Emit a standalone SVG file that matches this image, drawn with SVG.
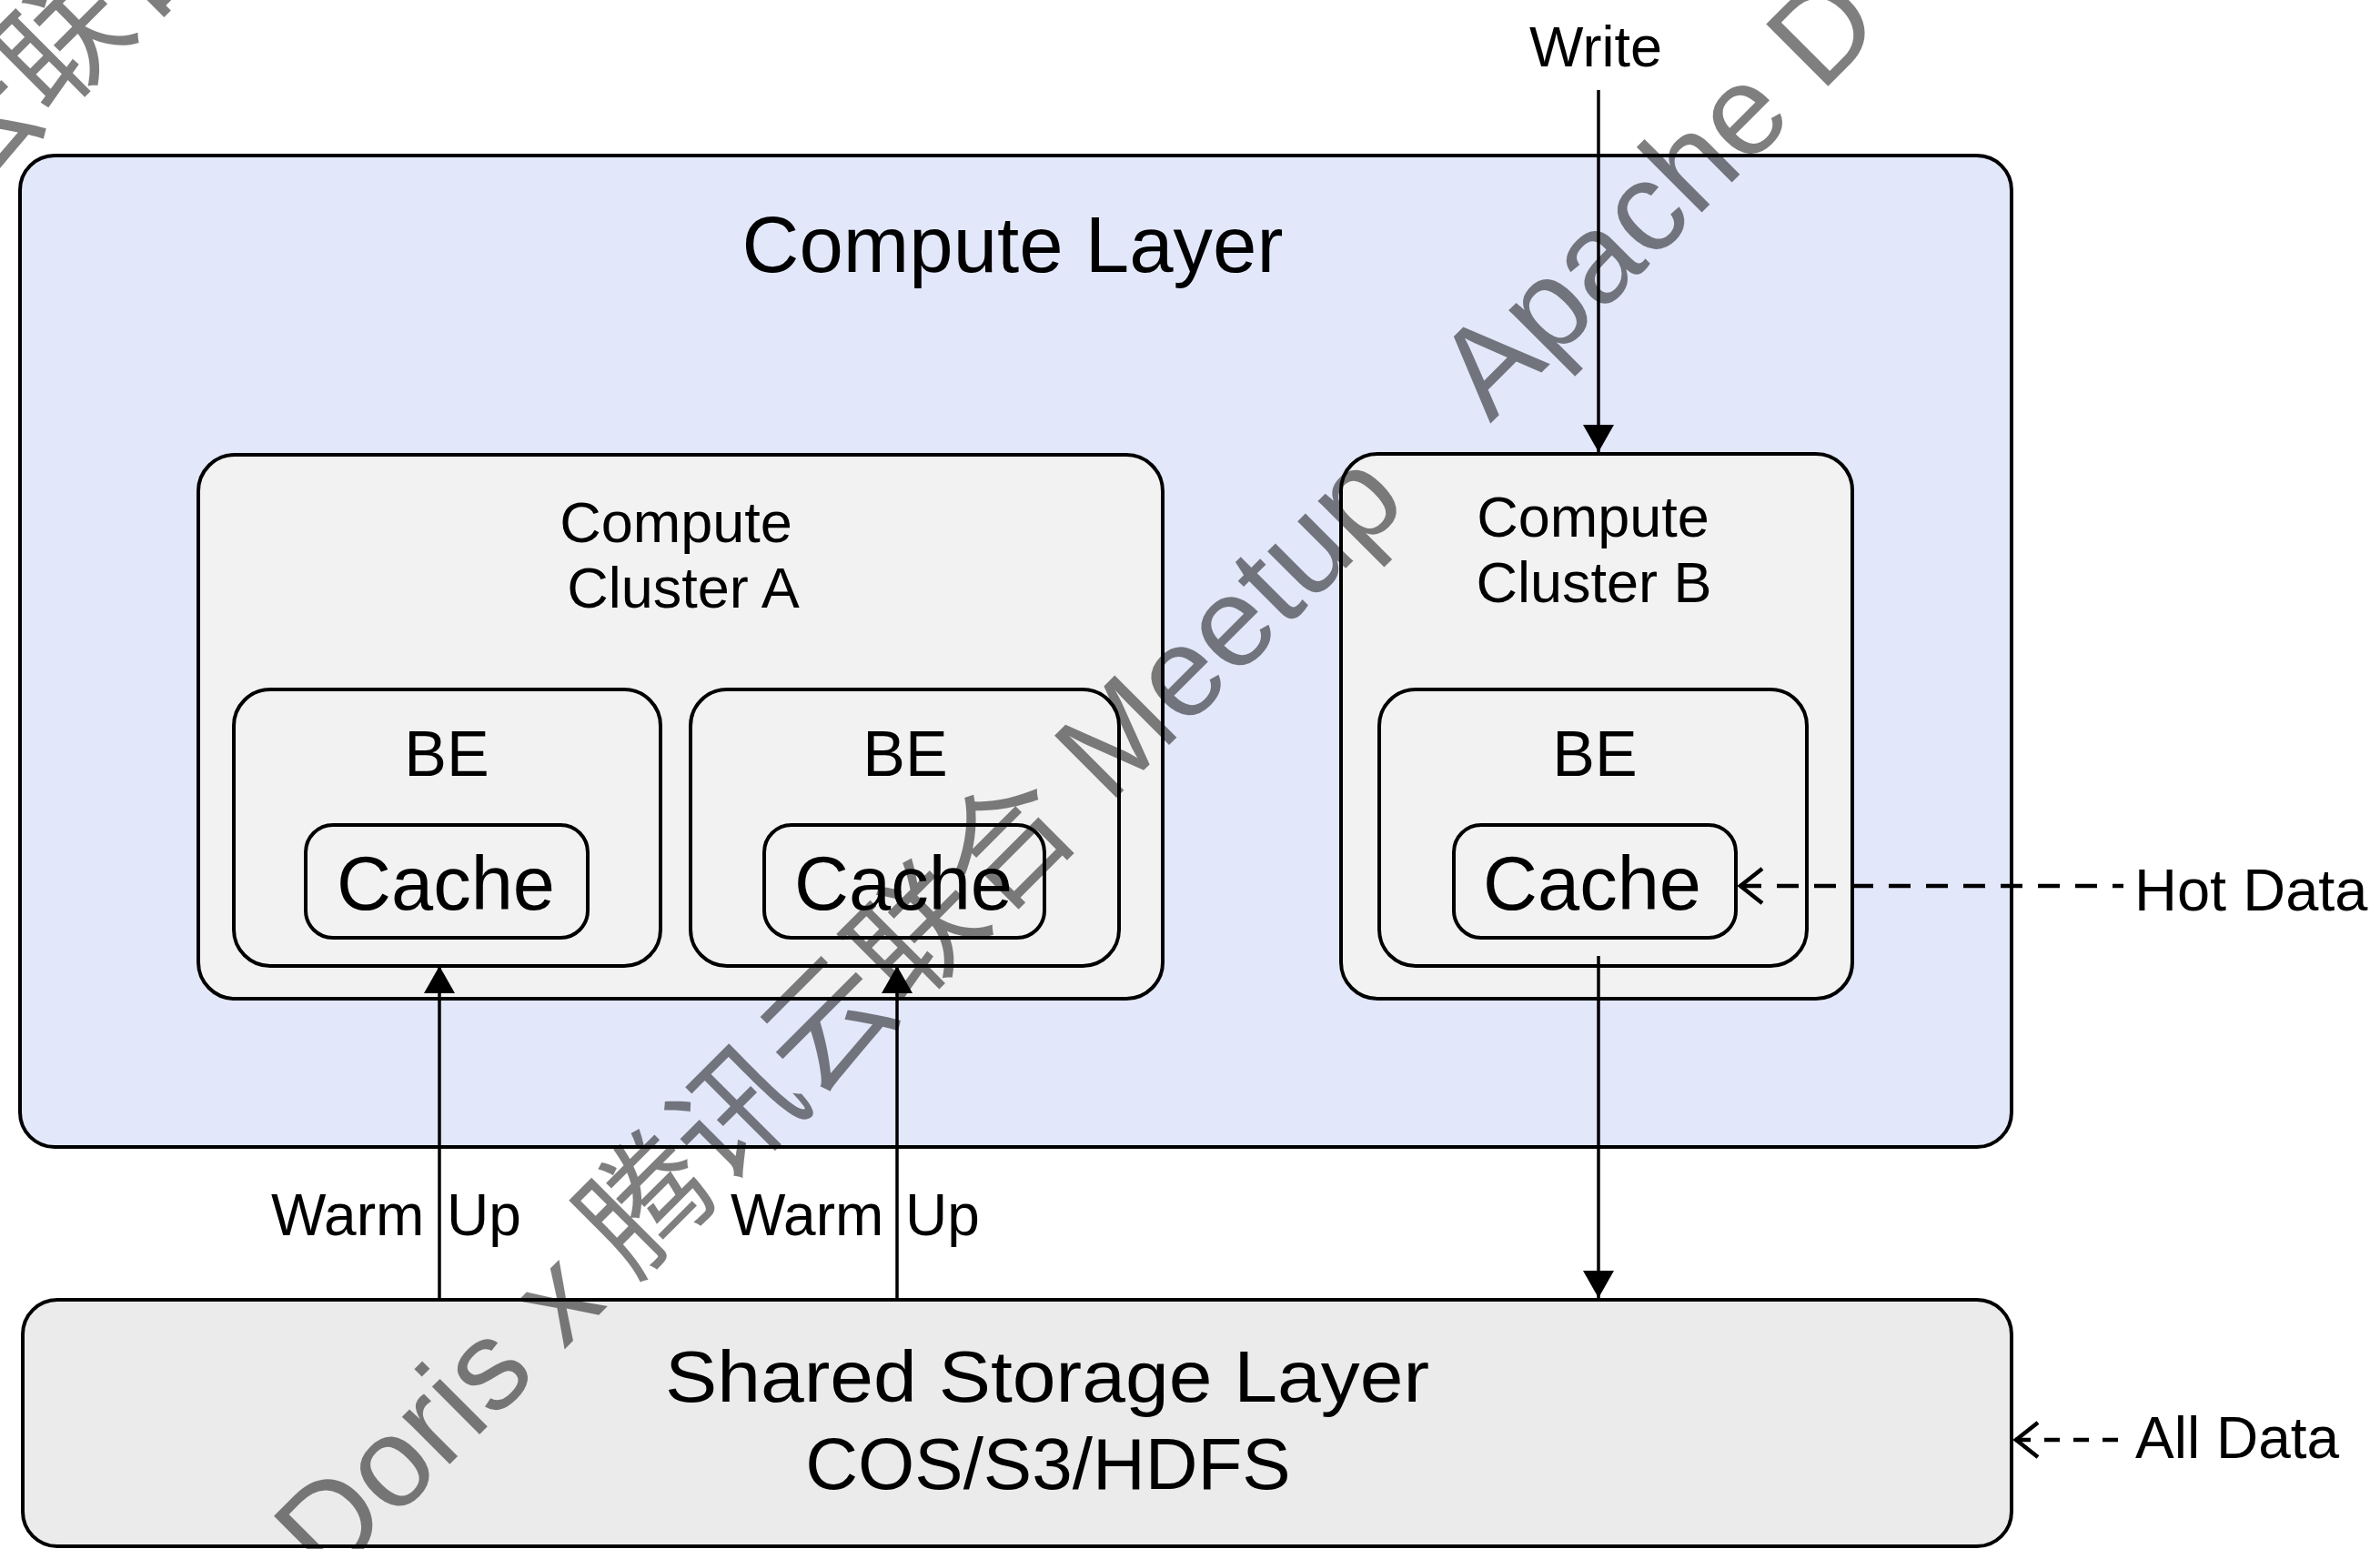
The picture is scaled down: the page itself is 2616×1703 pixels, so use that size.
<svg xmlns="http://www.w3.org/2000/svg" width="2616" height="1703" viewBox="0 0 2616 1703">
<style>
.box{stroke:#000;stroke-width:4}
.layer{fill:#E2E8FA}
.cluster{fill:#F2F2F2}
.storage{fill:#EBEBEB}
.t{font-family:"Liberation Sans",Arial,sans-serif;fill:#000}
.conn{stroke:#000;stroke-width:3.5;fill:none}
.dash{stroke-width:4.5}
.hot{stroke-dasharray:24 17}
.all{stroke-dasharray:17 15}
.wm{font-family:"Liberation Sans","Noto Sans CJK SC",sans-serif;font-size:140px;fill:#000;fill-opacity:0.5}
</style>
<defs>
<marker id="ah" markerUnits="userSpaceOnUse" viewBox="0 0 32 36" markerWidth="32" markerHeight="36" refX="30" refY="18" orient="auto">
<path d="M0,1 L30,18 L0,35 z" fill="#000"/>
</marker>
<marker id="chev" markerUnits="userSpaceOnUse" viewBox="-4 -24 34 48" markerWidth="34" markerHeight="48" refX="0" refY="0" orient="auto">
<path d="M25,-19 L1,0 L25,19" fill="none" stroke="#000" stroke-width="4.5" stroke-dasharray="none"/>
</marker>
</defs>
<rect width="2616" height="1703" fill="#fff"/>

<g id="compute-layer">
<rect class="box layer" x="22" y="171" width="2189" height="1090" rx="38"/>
<text class="t" x="1113" y="299" font-size="87" text-anchor="middle">Compute Layer</text>
</g>

<g id="cluster-a">
<rect class="box cluster" x="218" y="500" width="1060" height="598" rx="40"/>
<text class="t" x="743" y="596" font-size="63" text-anchor="middle">Compute</text>
<text class="t" x="751" y="668" font-size="63" text-anchor="middle">Cluster A</text>
</g>

<g id="be-a1">
<rect class="box cluster" x="257" y="758" width="469" height="304" rx="40"/>
<text class="t" x="491" y="853" font-size="70" text-anchor="middle">BE</text>
</g>
<g id="cache-a1">
<rect class="box cluster" x="336" y="907" width="310" height="124" rx="30"/>
<text class="t" x="490" y="1000" font-size="83" text-anchor="middle">Cache</text>
</g>

<g id="be-a2">
<rect class="box cluster" x="759" y="758" width="471" height="304" rx="40"/>
<text class="t" x="995" y="853" font-size="70" text-anchor="middle">BE</text>
</g>
<g id="cache-a2">
<rect class="box cluster" x="840" y="907" width="308" height="124" rx="30"/>
<text class="t" x="993" y="1000" font-size="83" text-anchor="middle">Cache</text>
</g>

<g id="cluster-b">
<rect class="box cluster" x="1474" y="499" width="562" height="599" rx="40"/>
<text class="t" x="1751" y="590" font-size="63" text-anchor="middle">Compute</text>
<text class="t" x="1752" y="662" font-size="63" text-anchor="middle">Cluster B</text>
</g>
<g id="be-b">
<rect class="box cluster" x="1516" y="758" width="470" height="304" rx="40"/>
<text class="t" x="1753" y="853" font-size="70" text-anchor="middle">BE</text>
</g>
<g id="cache-b">
<rect class="box cluster" x="1598" y="907" width="310" height="124" rx="30"/>
<text class="t" x="1750" y="1000" font-size="83" text-anchor="middle">Cache</text>
</g>

<g id="storage-layer">
<rect class="box storage" x="25" y="1429" width="2186" height="271" rx="38"/>
<text class="t" x="1151" y="1541" font-size="80" text-anchor="middle" textLength="840" lengthAdjust="spacingAndGlyphs">Shared Storage Layer</text>
<text class="t" x="1152" y="1637" font-size="80" text-anchor="middle">COS/S3/HDFS</text>
</g>

<g id="connectors">
<path class="conn" d="M1757,99 V497" marker-end="url(#ah)"/>
<path class="conn" d="M483,1427 V1062" marker-end="url(#ah)"/>
<path class="conn" d="M986,1427 V1062" marker-end="url(#ah)"/>
<path class="conn" d="M1757,1051 V1427" marker-end="url(#ah)"/>
<path class="conn dash hot" d="M1912,974 H2334" marker-start="url(#chev)"/>
<path class="conn dash all" d="M2215,1583 H2343" marker-start="url(#chev)"/>
</g>

<g id="labels">
<text class="t" x="1754" y="73" font-size="63" text-anchor="middle">Write</text>
<text class="t" y="1358" font-size="64"><tspan x="298">Warm</tspan> <tspan x="491">Up</tspan></text>
<text class="t" y="1358" font-size="64"><tspan x="803">Warm</tspan> <tspan x="995">Up</tspan></text>
<text class="t" x="2346" y="1001" font-size="65">Hot Data</text>
<text class="t" x="2347" y="1603" font-size="64">All Data</text>
</g>

<g id="watermark">
<text class="wm" transform="translate(361,1743) rotate(-45)"><tspan x="0">Doris x 腾讯云联合 Meetup</tspan><tspan x="1806">Apache D</tspan></text>
<text class="wm" transform="translate(-578,762) rotate(-45)" x="754">云联合</text>
</g>
</svg>
